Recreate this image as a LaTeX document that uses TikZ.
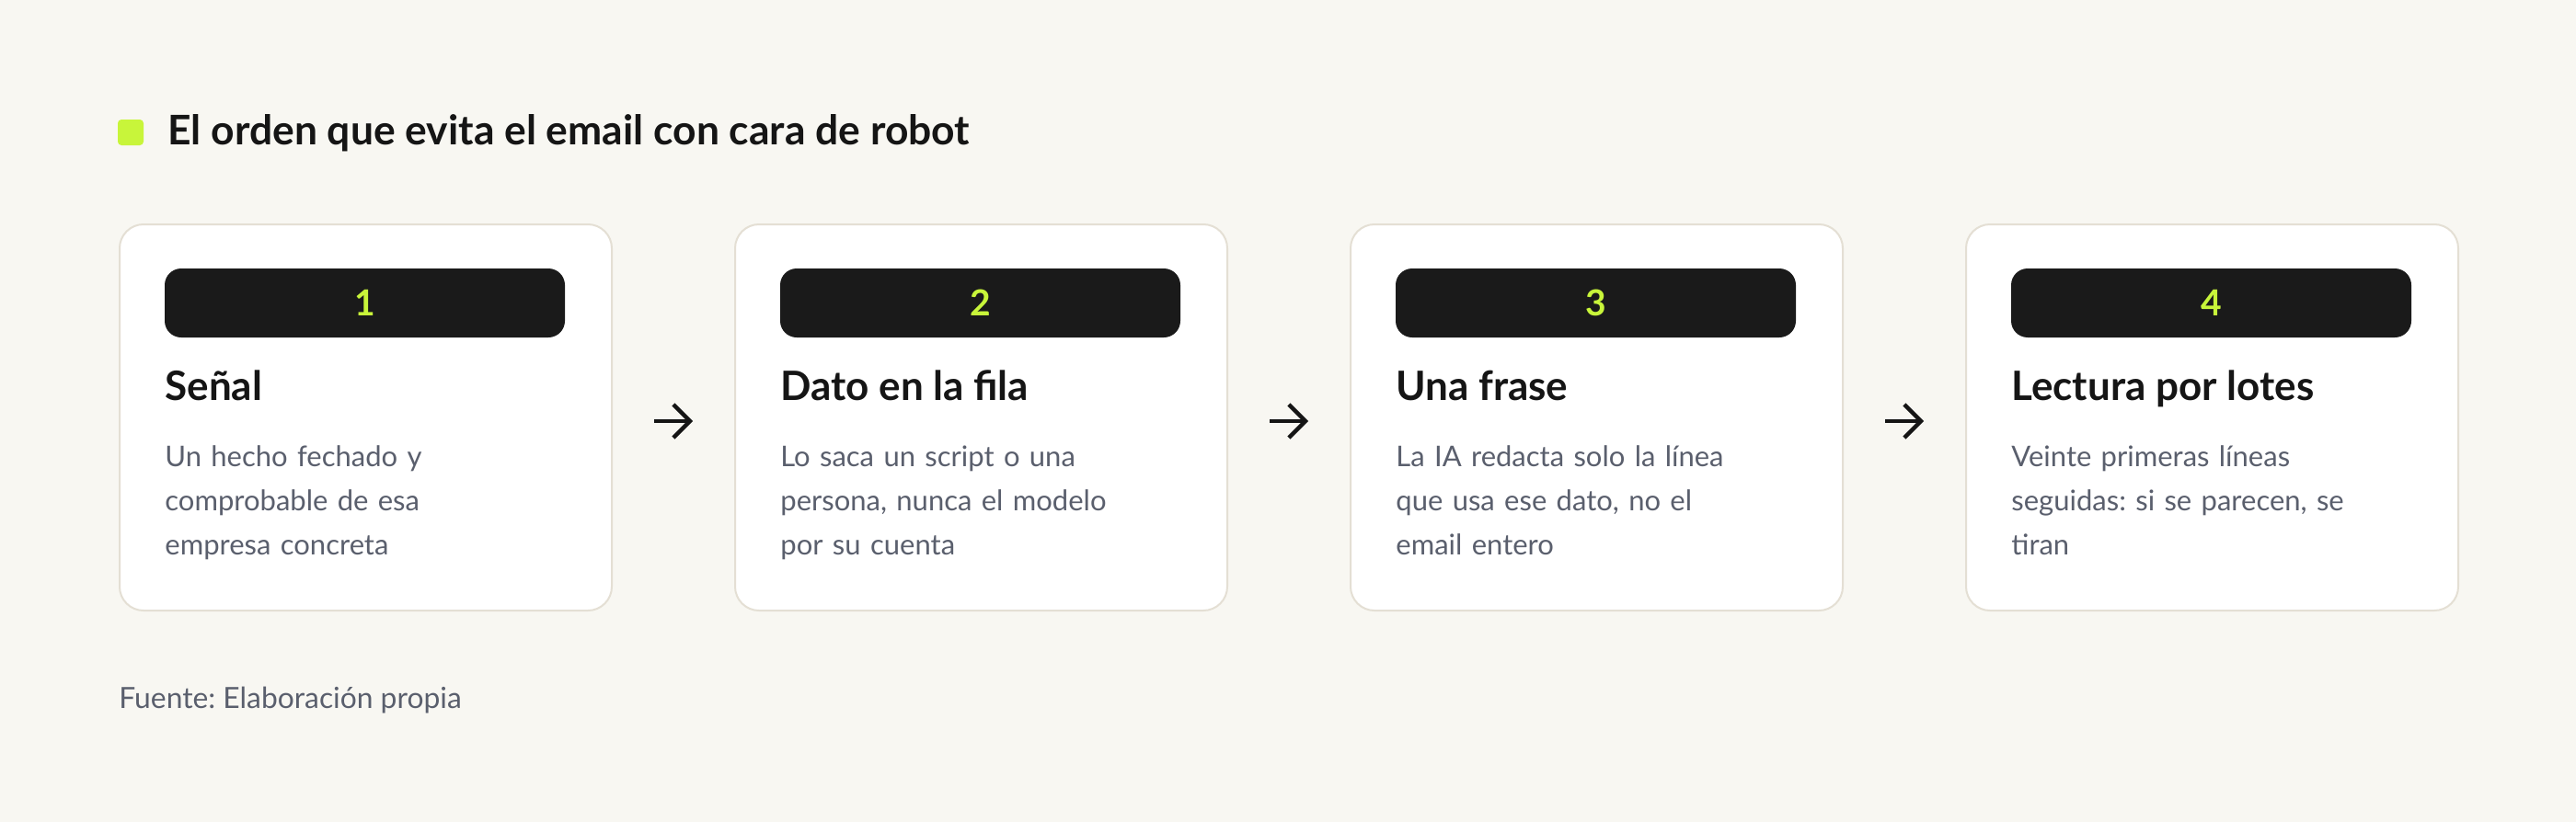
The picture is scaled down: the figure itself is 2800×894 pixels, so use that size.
\documentclass[tikz,border=0pt]{standalone}
\usepackage{fontspec}
\setmainfont{Lato}
\frenchspacing
\usetikzlibrary{arrows.meta,calc}
\definecolor{bgc}{HTML}{F8F7F2}
\definecolor{cardline}{HTML}{E4DFD4}
\definecolor{badgec}{HTML}{1A1A1A}
\definecolor{limec}{HTML}{C8F53A}
\definecolor{inkc}{HTML}{151515}
\definecolor{bodyc}{HTML}{5A5F6D}
\tikzset{
  cardbox/.style={draw=cardline, line width=1pt, fill=white, rounded corners=13pt,
    minimum width=267.5pt, minimum height=210pt, inner sep=0pt, anchor=north west},
  badgebox/.style={fill=badgec, rounded corners=9pt, minimum width=217.5pt,
    minimum height=37.5pt, inner sep=0pt, text=limec,
    font=\fontsize{19.5}{20}\selectfont\bfseries},
  cardtitle/.style={anchor=base west, inner sep=0pt, text=inkc,
    font=\fontsize{22}{26}\selectfont\bfseries},
  bodytext/.style={anchor=base west, inner sep=0pt, text=bodyc, text width=235pt,
    align=left, font=\fontsize{15.5}{24}\selectfont},
  flowarrow/.style={draw=inkc, line width=2.2pt, -{Straight Barb[length=9pt,width=18pt]},
    shorten <=22.5pt, shorten >=22.5pt},
}
\begin{document}
\begin{tikzpicture}[x=0.5pt,y=-0.5pt]
\fill[bgc] (0,0) rectangle (2800,894);
\useasboundingbox (0,0) rectangle (2800,894);
% header
\fill[limec, rounded corners=2pt] (128,130) rectangle (156,158);
\node[anchor=base west, inner sep=0pt, text=inkc, font=\fontsize{22.2}{26}\selectfont\bfseries] (title) at (182,157) {El orden que evita el email con cara de robot};
% cards
\node[cardbox] (c1) at (129,243) {};
\node[cardbox] (c2) at (798,243) {};
\node[cardbox] (c3) at (1467,243) {};
\node[cardbox] (c4) at (2136,243) {};
% badges
\node[badgebox] (b1) at (396.5,329.5) {1};
\node[badgebox] (b2) at (1065.5,329.5) {2};
\node[badgebox] (b3) at (1734.5,329.5) {3};
\node[badgebox] (b4) at (2403.5,329.5) {4};
% titles
\node[cardtitle] (h1) at (179,435) {Señal};
\node[cardtitle] (h2) at (848,435) {Dato en la fila};
\node[cardtitle] (h3) at (1517,435) {Una frase};
\node[cardtitle] (h4) at (2186,435) {Lectura por lotes};
% body
\node[bodytext] (t1) at (179,507) {Un hecho fechado y\\comprobable de esa\\empresa concreta};
\node[bodytext] (t2) at (848,507) {Lo saca un script o una\\persona, nunca el modelo\\por su cuenta};
\node[bodytext] (t3) at (1517,507) {La IA redacta solo la línea\\que usa ese dato, no el\\email entero};
\node[bodytext] (t4) at (2186,507) {Veinte primeras líneas\\seguidas: si se parecen, se\\tiran};
% arrows
\draw[flowarrow] ([yshift=-2pt]c1.east) -- ([yshift=-2pt]c2.west);
\draw[flowarrow] ([yshift=-2pt]c2.east) -- ([yshift=-2pt]c3.west);
\draw[flowarrow] ([yshift=-2pt]c3.east) -- ([yshift=-2pt]c4.west);
% footer
\node[anchor=base west, inner sep=0pt, text=bodyc, font=\fontsize{15.9}{20}\selectfont] (src) at (129,770) {Fuente: Elaboración propia};
\end{tikzpicture}
\end{document}
